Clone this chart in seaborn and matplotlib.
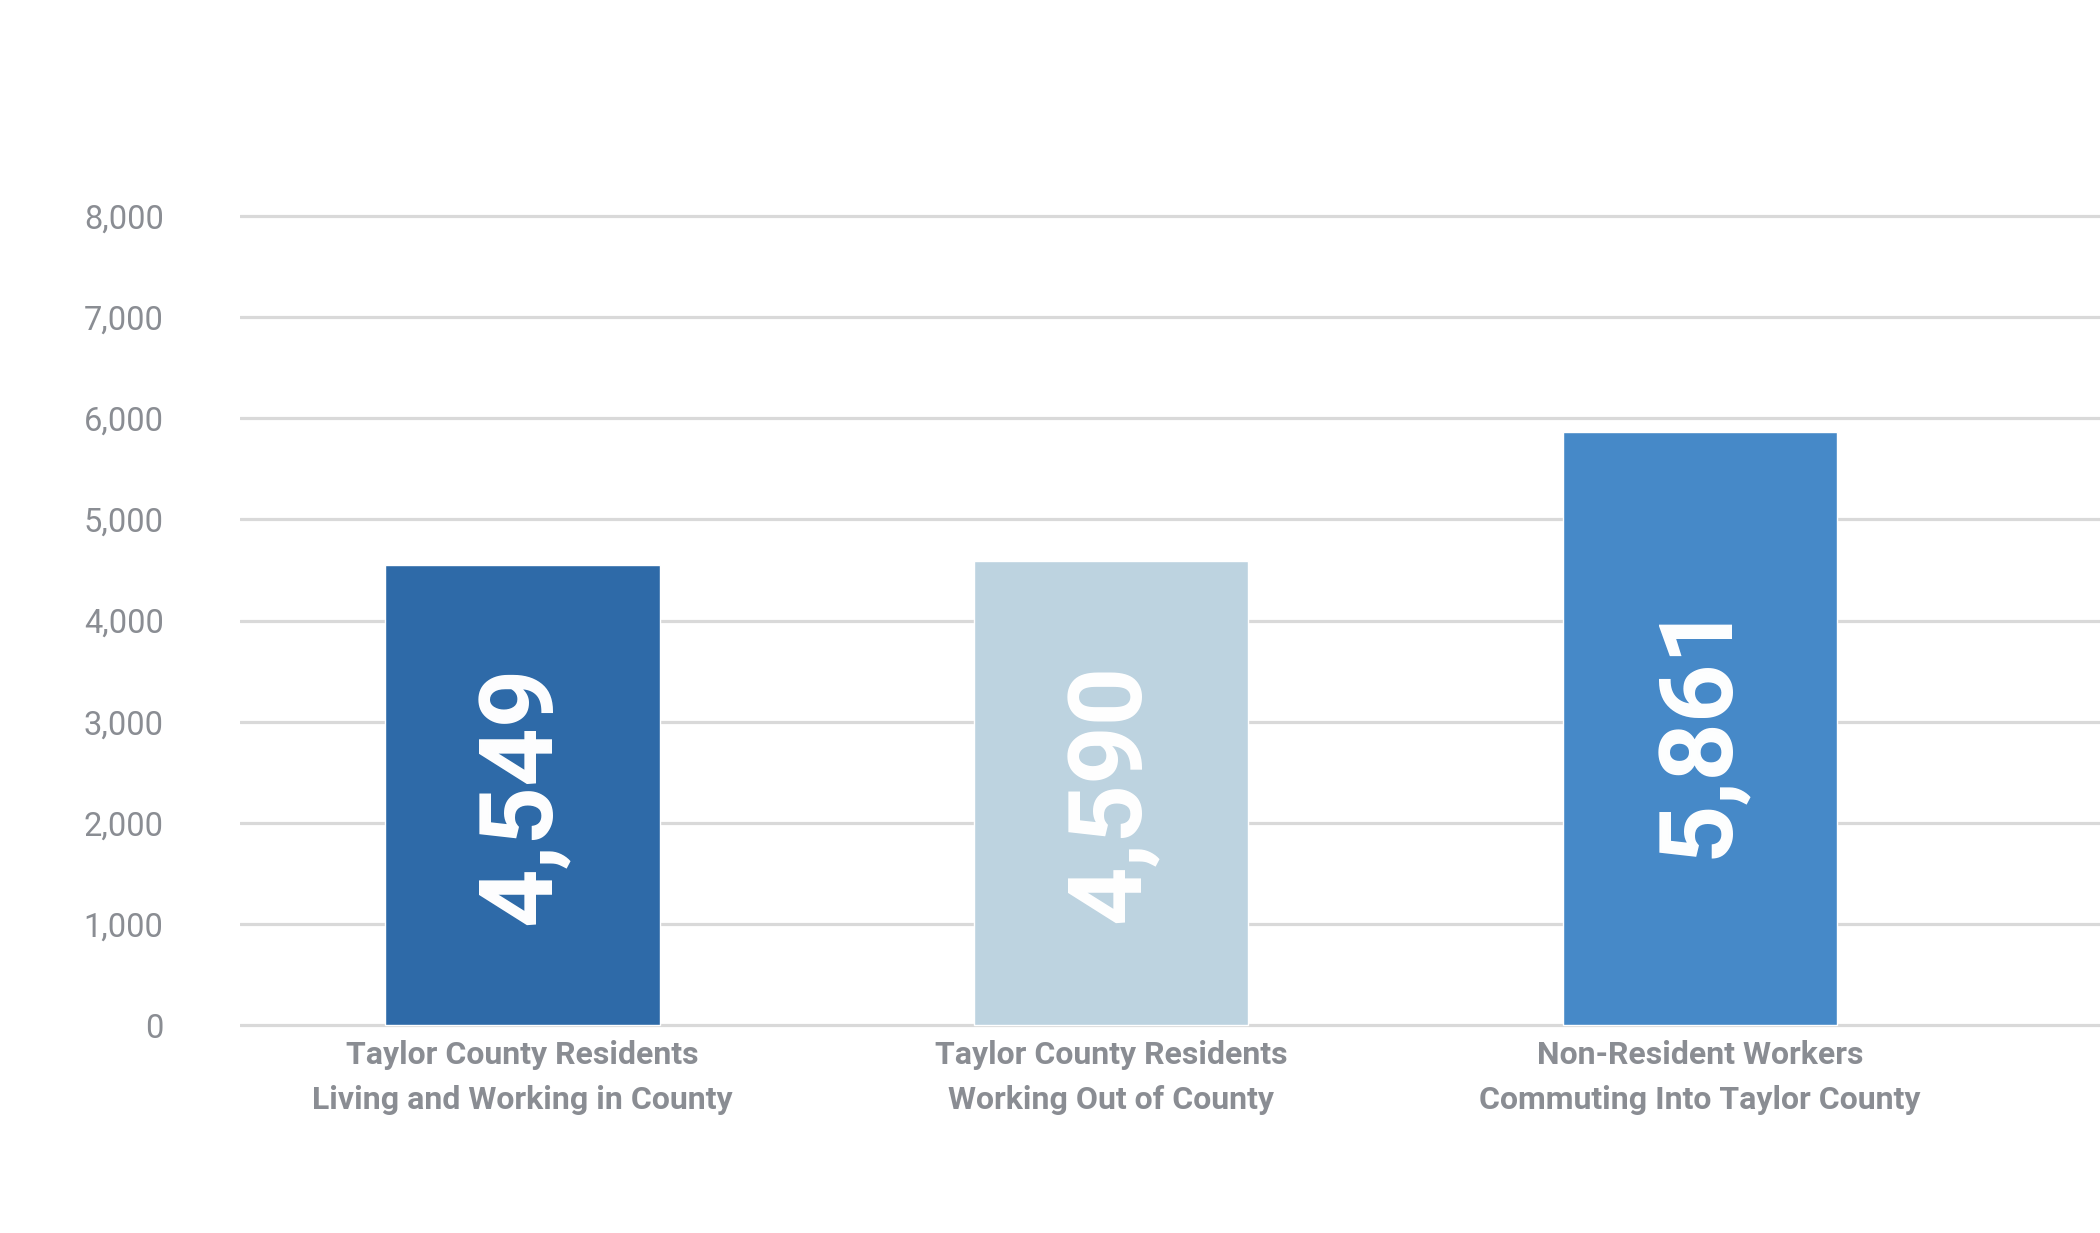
import numpy as np
import seaborn as sns
import pandas as pd
import matplotlib.pyplot as plt

categories = ["Taylor County Residents\nLiving and Working in County",
              "Taylor County Residents\nWorking Out of County",
              "Non-Resident Workers\nCommuting Into Taylor County"]
values = [4549, 4590, 5861]
bar_colors = ["#2e6aa8", "#bdd3e0", "#4689c8"]
y_ticks = [0, 1000, 2000, 3000, 4000, 5000, 6000, 7000, 8000]

sns.set_theme(style="white")
plt.rcParams['font.family'] = ['Roboto', 'DejaVu Sans']

df = pd.DataFrame({"group": categories, "count": values})

fig = plt.figure(figsize=(21, 12.33), dpi=100)
ax = fig.add_axes([0.1143, 0.1652, 0.8857, 0.6630])

sns.barplot(data=df, x="group", y="count", hue="group", palette=bar_colors,
            legend=False, width=0.466, saturation=1, ax=ax, zorder=3)

ax.set_ylim(-40, 8040)
ax.set_xlim(-0.48, 2.68)
ax.set_yticks(y_ticks)
ax.set_yticklabels([f"{v:,}" for v in y_ticks])
ax.yaxis.grid(True, color="#d9d9d9", linewidth=2.3, zorder=0)
ax.xaxis.grid(False)
for s in ax.spines.values():
    s.set_visible(False)

gray = "#8a8d93"
ax.tick_params(axis="y", length=0, pad=55, labelsize=23.5, labelcolor=gray)
ax.tick_params(axis="x", length=0, pad=8, labelcolor=gray)
for lbl in ax.get_xticklabels():
    lbl.set_fontsize(23)
    lbl.set_fontweight("bold")
    lbl.set_linespacing(1.6)
ax.set_xlabel("")
ax.set_ylabel("")

# rotated value labels inside the bars
for i, v in enumerate(values):
    ax.text(i, v / 2, f"{v:,}", rotation=90, ha="center", va="center",
            color="white", fontsize=73.5, fontweight="bold", zorder=4)

plt.savefig("out.png", dpi=100)
